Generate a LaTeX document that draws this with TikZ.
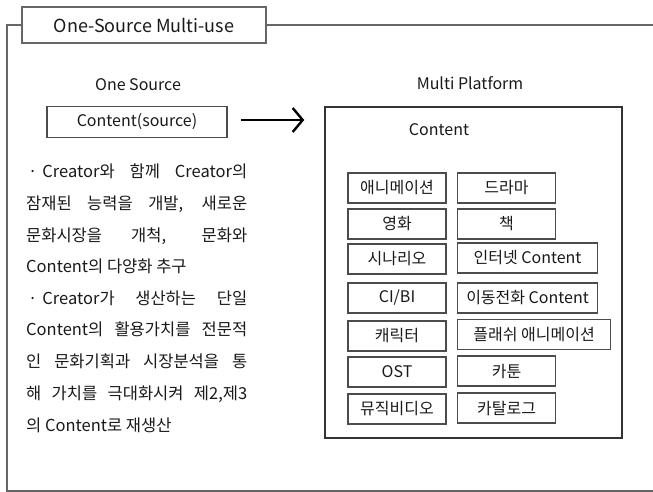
\documentclass[tikz,border=0pt]{standalone}
\usepackage{fontspec}
\setmainfont{Noto Sans CJK KR}
\usetikzlibrary{arrows.meta,calc}
\tikzset{
  every node/.style={text=black!90},
  frame/.style={draw=black!60,line width=1.2pt},
  itembox/.style={draw=black!70,line width=1.1pt,inner sep=0pt,minimum height=30pt,
    font=\fontsize{16}{16}\selectfont},
  leftitem/.style={itembox,minimum width=98pt},
  rightitem/.style={itembox,anchor=west},
  label/.style={font=\fontsize{16}{16}\selectfont},
  para/.style={anchor=west,inner sep=0pt,text height=12pt,text depth=3pt,
    font=\fontsize{16.5}{16.5}\selectfont},
}
\def\jl#1{\makebox[221pt][s]{#1}}
\def\dotb{\hspace{2pt}·\hspace{5pt}}

\begin{document}
\begin{tikzpicture}[x=1pt,y=-1pt]
    \useasboundingbox (0,0) rectangle (653,492);
    % title and frame
    \node[draw=black!60,line width=1.1pt,minimum width=244pt,minimum height=36pt,
      font=\fontsize{18}{18}\selectfont] (title) at (144,25) {One-Source Multi-use};
    \draw[frame] (title.west) -- (7,25) -- (7,491) -- (653,491);
    \draw[frame] (title.east) -- (653,25);
    % one source side
    \node[label] (onesrc) at (138,85) {One Source};
    \node[draw=black!70,line width=1.1pt,minimum width=180pt,minimum height=31pt,
      font=\fontsize{16}{16}\selectfont] (src) at (137,122) {Content(source)};
    \node[para] (l1) at (26,173) {\jl{\dotb Creator와 함께 Creator의}};
    \node[para] (l2) at (26,205) {\jl{잠재된 능력을 개발, 새로운}};
    \node[para] (l3) at (26,237) {\jl{문화시장을 개척, 문화와}};
    \node[para] (l4) at (26,268) {Content의 다양화 추구};
    \node[para] (l5) at (26,300) {\jl{\dotb Creator가 생산하는 단일}};
    \node[para] (l6) at (26,331) {\jl{Content의 활용가치를 전문적}};
    \node[para] (l7) at (26,363) {\jl{인 문화기획과 시장분석을 통}};
    \node[para] (l8) at (26,395) {\jl{해 가치를 극대화시켜 제2,제3}};
    \node[para] (l9) at (26,427) {의 Content로 재생산};
    % multi platform side
    \node[label] (multi) at (470,83) {Multi Platform};
    \node[draw=black!80,line width=1.5pt,minimum width=297pt,minimum height=331pt] (mp) at (473.5,272.5) {};
    \node[label] (content) at (439,130) {Content};
    \node[leftitem] (anim) at (397,188) {애니메이션};
    \node[leftitem] (movie) at (397,224) {영화};
    \node[leftitem] (scen) at (397,259) {시나리오};
    \node[leftitem] (cibi) at (397,298) {CI/BI};
    \node[leftitem] (chara) at (397,336) {캐릭터};
    \node[leftitem] (ost) at (397,372) {OST};
    \node[leftitem] (mv) at (397,409) {뮤직비디오};
    \node[rightitem,minimum width=98pt] (drama) at (457,188) {드라마};
    \node[rightitem,minimum width=98pt] (book) at (457,224) {책};
    \node[rightitem,minimum width=140pt] (inet) at (457,258) {인터넷 Content};
    \node[rightitem,minimum width=140pt] (mobile) at (457,298) {이동전화 Content};
    \node[rightitem,minimum width=153pt] (flash) at (457,334.5) {플래쉬 애니메이션};
    \node[rightitem,minimum width=98pt] (cartoon) at (457,371) {카툰};
    \node[rightitem,minimum width=98pt] (catalog) at (457,408) {카탈로그};
    % arrow
    \draw[line width=2.4pt,-{Straight Barb[length=10pt,width=24pt]}]
      ([xshift=13pt,yshift=2pt]src.east) -- ([xshift=-20pt]mp.west |- 0,120);
\end{tikzpicture}
\end{document}
